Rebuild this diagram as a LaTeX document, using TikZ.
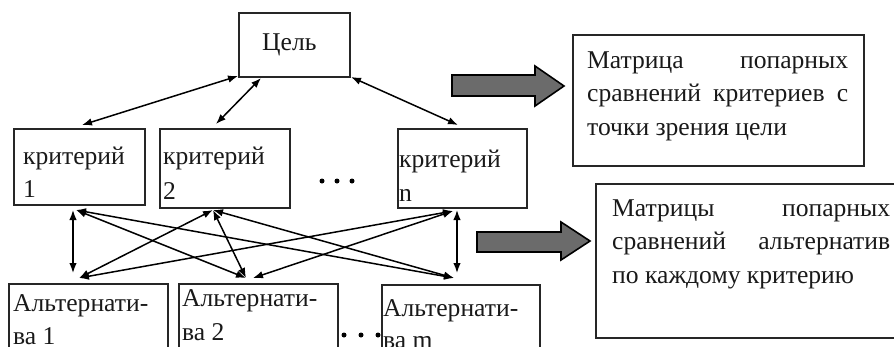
\documentclass[tikz,border=0pt]{standalone}
\usepackage{fontspec}
\setmainfont{Liberation Serif}
\usetikzlibrary{arrows.meta}
\begin{document}
\begin{tikzpicture}[x=1pt,y=-1pt,
 box/.style={draw=black!85, line width=1.8pt, anchor=north west, inner sep=0pt},
 txt/.style={anchor=base west, inner sep=0pt, font=\fontsize{25.6}{33.5}\selectfont, text=black!90},
 link/.style={line width=1.5pt, {Latex[length=10pt,width=7.5pt]}-{Latex[length=10pt,width=7.5pt]}},
 blockarrow/.style={draw=black, line width=1.6pt, fill=black!58},
 dotmark/.style={circle, fill=black, inner sep=0pt, minimum size=5pt}]
\path[use as bounding box] (0,0) rectangle (894,346);
\clip (0,0) rectangle (894,346);
% boxes
\node[box, minimum width=111pt, minimum height=64pt] (goal) at (238,12) {};
\node[box, minimum width=131pt, minimum height=76pt] (k1) at (13,128) {};
\node[box, minimum width=130pt, minimum height=79pt] (k2) at (159,128) {};
\node[box, minimum width=129pt, minimum height=79pt] (kn) at (397,128) {};
\node[box, minimum width=159pt, minimum height=80pt] (a1) at (8,283) {};
\node[box, minimum width=159pt, minimum height=80pt] (a2) at (178,283) {};
\node[box, minimum width=158pt, minimum height=80pt] (am) at (381,284) {};
\node[box, minimum width=291pt, minimum height=131pt] (m1) at (572,34) {};
\node[box, minimum width=320pt, minimum height=154pt] (m2) at (595,183) {};
% texts
\node[txt] (tgoal) at (262,50) {Цель};
\node[txt] (tk1) at (23,164) {критерий};
\node[txt] (tk1b) at (23,197) {1};
\node[txt] (tk2) at (163,164) {критерий};
\node[txt] (tk2b) at (163,199) {2};
\node[txt] (tkn) at (399,167) {критерий};
\node[txt] (tknb) at (399,201) {n};
\node[txt] (ta1) at (13,311) {Альтернати-};
\node[txt] (ta1b) at (13,344) {ва 1};
\node[txt] (ta2) at (182,306) {Альтернати-};
\node[txt] (ta2b) at (182,340) {ва 2};
\node[txt] (tam) at (383,316) {Альтернати-};
\node[txt] (tamb) at (383,348) {ва m};
\node[txt, align=left] (tm1) at (587,135)
  {\makebox[261pt][s]{Матрица попарных}\\ \makebox[261pt][s]{сравнений критериев с}\\ точки зрения цели};
\node[txt, align=left] (tm2) at (612,283)
  {\makebox[278pt][s]{Матрицы попарных}\\ \makebox[278pt][s]{сравнений альтернатив}\\ по каждому критерию};
% dots
\node[dotmark] (d1) at (322,181) {};
\node[dotmark] (d2) at (337,181) {};
\node[dotmark] (d3) at (352,181) {};
\node[dotmark] (e1) at (344,335) {};
\node[dotmark] (e2) at (361,335) {};
\node[dotmark] (e3) at (378,335) {};
% connector end points
\coordinate (g1) at (238,76);
\coordinate (g2) at (261,78);
\coordinate (g3) at (351,77);
\coordinate (k1t) at (82,125);
\coordinate (k2t) at (216,124);
\coordinate (knt) at (458,125);
\coordinate (k1s) at (76,210);
\coordinate (k2s) at (213,210);
\coordinate (kns) at (453,211);
\coordinate (k1v) at (73,210);
\coordinate (knv) at (457,210);
\coordinate (a1n) at (79,278);
\coordinate (a2n) at (246,278);
\coordinate (a2m) at (253,278);
\coordinate (amn) at (454,278);
\coordinate (a1v) at (73,273);
\coordinate (amv) at (457,273);
% connectors
\draw[link] (g1) -- (k1t);
\draw[link] (g2) -- (k2t);
\draw[link] (g3) -- (knt);
\draw[link] (k1v) -- (a1v);
\draw[link] (knv) -- (amv);
\draw[link] (k1s) -- (a2n);
\draw[link] (k1s) -- (amn);
\draw[link] (k2s) -- (a1n);
\draw[link] (k2s) -- (a2n);
\draw[link] (k2s) -- (amn);
\draw[link] (kns) -- (a1n);
\draw[link] (kns) -- (a2m);
% block arrows
\draw[blockarrow] (452,75) -- (535,75) -- (535,66) -- (564,86) -- (535,106) -- (535,96) -- (452,96) -- cycle;
\draw[blockarrow] (477,232) -- (561,232) -- (561,222) -- (590,241) -- (561,260) -- (561,252) -- (477,252) -- cycle;
\end{tikzpicture}
\end{document}
